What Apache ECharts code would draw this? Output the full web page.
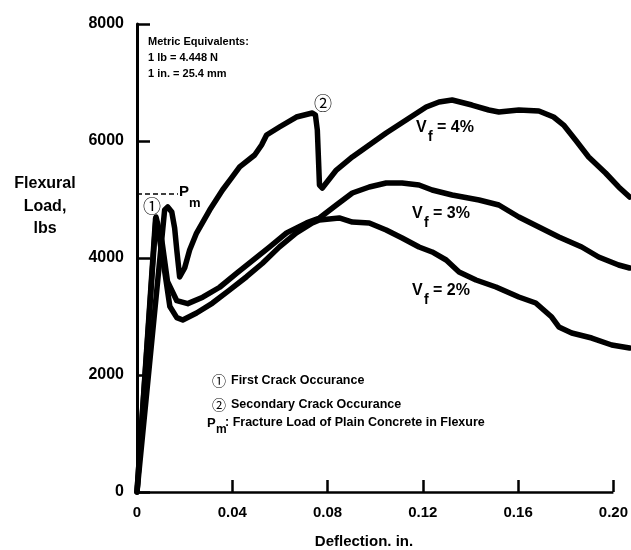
<!DOCTYPE html>
<html>
<head>
<meta charset="utf-8">
<script src="https://cdn.jsdelivr.net/npm/echarts@6/dist/echarts.min.js"></script>
<style>
  html, body { margin: 0; padding: 0; background: #fff; }
  #chart { width: 631px; height: 550px; }
</style>
</head>
<body>
<div id="chart"></div>
<script>
// Load–deflection curves of fiber-reinforced concrete beams in flexure
// deflection in inches, load in lbs

const xTicks = [0, 0.04, 0.08, 0.12, 0.16, 0.20];
const yTicks = [0, 2000, 4000, 6000, 8000];
const xAxisEnd = 0.20;        // where the drawn axis line stops
const xDataEnd = 0.2069;      // curves run slightly past the last tick

const vf4Deflection = [0, 0.0116, 0.0129, 0.0146, 0.0158, 0.0167, 0.0179, 0.0200, 0.0221, 0.0250, 0.0305, 0.0359, 0.0397, 0.0431, 0.0494, 0.0523, 0.0544, 0.0598, 0.0669, 0.0736, 0.0749, 0.0757, 0.0762, 0.0766, 0.0778, 0.0837, 0.0904, 0.0975, 0.1046, 0.1130, 0.1214, 0.1268, 0.1323, 0.1406, 0.1477, 0.1519, 0.1603, 0.1687, 0.1749, 0.1791, 0.1841, 0.1896, 0.1967, 0.2022, 0.2068];
const vf4Load = [0, 4820, 4872, 4786, 4513, 4137, 3675, 3829, 4137, 4427, 4820, 5162, 5368, 5556, 5761, 5932, 6103, 6239, 6410, 6479, 6444, 6188, 5675, 5248, 5197, 5504, 5727, 5932, 6137, 6359, 6581, 6667, 6701, 6615, 6530, 6496, 6530, 6513, 6410, 6273, 6017, 5727, 5453, 5214, 5043];

const vf3Deflection = [0, 0.0080, 0.0105, 0.0128, 0.0167, 0.0213, 0.0276, 0.0347, 0.0419, 0.0486, 0.0557, 0.0628, 0.0712, 0.0766, 0.0837, 0.0904, 0.0975, 0.1046, 0.1113, 0.1184, 0.1239, 0.1323, 0.1436, 0.1519, 0.1603, 0.1687, 0.1771, 0.1867, 0.1938, 0.2022, 0.2068];
const vf3Load = [0, 4700, 4280, 3600, 3270, 3220, 3330, 3500, 3740, 3960, 4190, 4430, 4600, 4684, 4906, 5111, 5214, 5282, 5282, 5248, 5162, 5077, 4991, 4906, 4701, 4530, 4359, 4188, 4017, 3880, 3829];

const vf2Deflection = [0, 0.0078, 0.0095, 0.0117, 0.0138, 0.0167, 0.0192, 0.0250, 0.0317, 0.0388, 0.0460, 0.0527, 0.0598, 0.0669, 0.0736, 0.0766, 0.0849, 0.0904, 0.0975, 0.1046, 0.1113, 0.1184, 0.1239, 0.1298, 0.1352, 0.1423, 0.1507, 0.1603, 0.1674, 0.1741, 0.1771, 0.1825, 0.1909, 0.1993, 0.2068];
const vf2Load = [0, 4680, 4310, 3750, 3170, 2980, 2940, 3060, 3230, 3450, 3680, 3910, 4190, 4430, 4600, 4650, 4684, 4615, 4598, 4479, 4342, 4188, 4103, 3966, 3761, 3624, 3504, 3333, 3231, 2991, 2821, 2718, 2632, 2513, 2462];

// fracture load of plain concrete
const plainFractureLoad = 5100;
const plainFractureEnd = 0.0172;

const seriesNames = ['Vf = 4%', 'Vf = 3%', 'Vf = 2%'];

function pairs(xs, ys) { return xs.map((x, i) => [x, ys[i]]); }

const FONT = '"Liberation Sans", Arial, Helvetica, sans-serif';
const CIRCLE_FONT = '"Noto Sans CJK JP", "DejaVu Sans", sans-serif';

function txt(x, y, text, size, opts) {
  return Object.assign({
    type: 'text', x: x, y: y,
    style: Object.assign({
      text: text, fill: '#000', font: 'bold ' + size + 'px ' + FONT,
      textAlign: 'left', textVerticalAlign: 'middle'
    }, (opts && opts.style) || {})
  }, (opts && opts.el) || {});
}

function circled(x, y, ch, size) {
  return {
    type: 'text', x: x, y: y,
    style: { text: ch, fill: '#000', font: size + 'px ' + CIRCLE_FONT,
             textAlign: 'center', textVerticalAlign: 'middle' }
  };
}

// V_f = n% label with subscript
function vfLabel(x, y, pct) {
  return [
    txt(x, y, 'V', 16),
    txt(x + 12, y + 9, 'f', 14),
    txt(x + 21, y, '= ' + pct, 16)
  ];
}

const chart = echarts.init(document.getElementById('chart'), null, { renderer: 'canvas' });

const lineSeries = [
  [vf4Deflection, vf4Load],
  [vf3Deflection, vf3Load],
  [vf2Deflection, vf2Load]
].map((d, i) => ({
  name: seriesNames[i],
  type: 'line',
  data: pairs(d[0], d[1]),
  showSymbol: false,
  silent: true,
  clip: false,
  lineStyle: { color: '#000', width: 5.5, join: 'round', cap: 'round' },
  z: 3
}));

// dashed P_m level and the horizontal axis line (which stops at the last tick)
lineSeries[0].markLine = {
  silent: true,
  symbol: ['none', 'none'],
  label: { show: false },
  data: [
    [{ coord: [0, plainFractureLoad], lineStyle: { color: '#000', type: [5, 3], width: 1.5 } },
     { coord: [plainFractureEnd, plainFractureLoad] }],
    [{ coord: [0, 0], lineStyle: { color: '#000', type: 'solid', width: 2.5 } },
     { coord: [xAxisEnd, 0] }]
  ]
};

const graphics = [
  // metric equivalents
  txt(148, 42, 'Metric Equivalents:', 11),
  txt(148, 58, '1 lb = 4.448 N', 11),
  txt(148, 74, '1 in. = 25.4 mm', 11),
  // y-axis title
  txt(45, 184, 'Flexural', 16, { style: { textAlign: 'center' } }),
  txt(45, 207, 'Load,', 16, { style: { textAlign: 'center' } }),
  txt(45, 229, 'lbs', 16, { style: { textAlign: 'center' } }),
  // x-axis title
  txt(364, 542, 'Deflection. in.', 15, { style: { textAlign: 'center' } }),
  // P_m marker at the dashed line
  txt(179, 192, 'P', 15),
  txt(189, 203, 'm', 13),
  // crack markers
  circled(152, 206, '①', 18),
  circled(323, 103, '②', 18),
  // key
  circled(219, 381, '①', 14),
  txt(231, 381, 'First Crack Occurance', 12.5),
  circled(219, 405, '②', 14),
  txt(231, 405, 'Secondary Crack Occurance', 12.5),
  txt(207, 423, 'P', 13),
  txt(216, 430, 'm', 12),
  txt(225, 423, ': Fracture Load of Plain Concrete in Flexure', 12.5)
].concat(vfLabel(416, 128, '4%'), vfLabel(412, 214, '3%'), vfLabel(412, 291, '2%'));

chart.setOption({
  animation: false,
  backgroundColor: '#fff',
  grid: { left: 137, top: 24, width: 494, height: 468, containLabel: false },
  xAxis: {
    type: 'value', min: 0, max: xDataEnd,
    axisLine: { show: false },
    axisTick: { show: true, inside: true, length: 12, customValues: xTicks,
                lineStyle: { color: '#000', width: 2.5 } },
    axisLabel: {
      color: '#000', fontWeight: 'bold', fontSize: 15, fontFamily: FONT, margin: 13,
      customValues: xTicks,
      formatter: v => (v === 0 ? '0' : v.toFixed(2))
    },
    splitLine: { show: false }
  },
  yAxis: {
    type: 'value', min: yTicks[0], max: yTicks[yTicks.length - 1], interval: 2000,
    axisLine: { show: true, lineStyle: { color: '#000', width: 3 } },
    axisTick: { show: true, inside: true, length: 13, lineStyle: { color: '#000', width: 2.5 } },
    axisLabel: { color: '#000', fontWeight: 'bold', fontSize: 16, fontFamily: FONT, margin: 13,
                 formatter: v => String(v) },
    splitLine: { show: false }
  },
  series: lineSeries,
  graphic: graphics
});
</script>
</body>
</html>
